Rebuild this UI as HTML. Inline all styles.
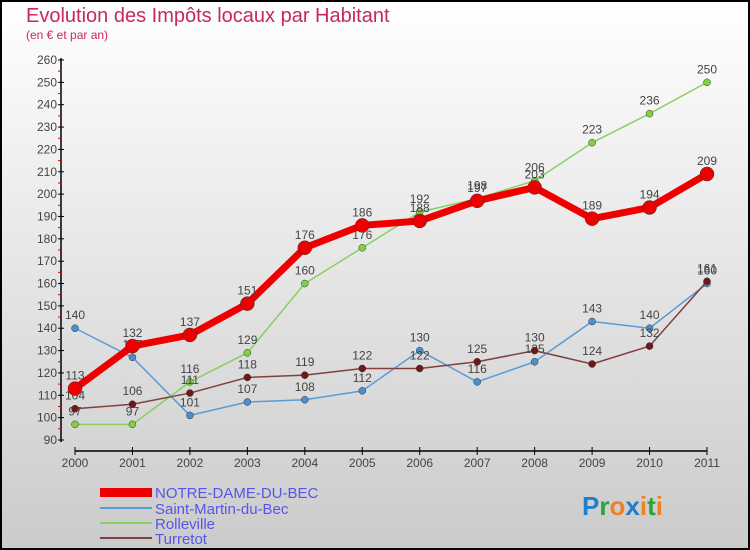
<!DOCTYPE html>
<html><head><meta charset="utf-8"><style>
body{margin:0}
#c{width:750px;height:550px;position:relative;overflow:hidden}
svg text{font-family:"Liberation Sans",sans-serif}
</style></head><body>
<div id="c">
<svg id="s" width="750" height="550" xmlns="http://www.w3.org/2000/svg">
<defs><linearGradient id="bg" x1="0" y1="0" x2="0" y2="1"><stop offset="0" stop-color="#ffffff"/><stop offset="1" stop-color="#cbcbcb"/></linearGradient></defs>
<rect x="1" y="1" width="748" height="548" fill="url(#bg)" stroke="#000" stroke-width="2"/>
<text x="26" y="22" font-size="20" fill="#c8285a">Evolution des Impôts locaux par Habitant</text>
<text x="26" y="39" font-size="12" fill="#c8285a">(en € et par an)</text>
<g id="axes"></g><g id="series"></g>
<g>
<rect x="100" y="488" width="52" height="9" fill="#ee0000"/>
<text x="155" y="498" font-size="15" fill="#5555ee">NOTRE-DAME-DU-BEC</text>
<line x1="100" y1="508" x2="152" y2="508" stroke="#5b9bd5" stroke-width="2"/>
<text x="155" y="514" font-size="15" fill="#5555ee">Saint-Martin-du-Bec</text>
<line x1="100" y1="523" x2="152" y2="523" stroke="#88d060" stroke-width="2"/>
<text x="155" y="529" font-size="15" fill="#5555ee">Rolleville</text>
<line x1="100" y1="538" x2="152" y2="538" stroke="#804040" stroke-width="2"/>
<text x="155" y="544" font-size="15" fill="#5555ee">Turretot</text>
</g>
<text x="582" y="515" font-size="26" font-weight="bold"><tspan fill="#1e7fd0">P</tspan><tspan fill="#30a040">r</tspan><tspan fill="#f08020">o</tspan><tspan fill="#1e7fd0">x</tspan><tspan fill="#f08020">i</tspan><tspan fill="#30a040">t</tspan><tspan fill="#f08020">i</tspan></text>
</svg></div>
<script>
const years=[2000,2001,2002,2003,2004,2005,2006,2007,2008,2009,2010,2011];
const yTicks=[90,100,110,120,130,140,150,160,170,180,190,200,210,220,230,240,250,260];
const notreDame=[113,132,137,151,176,186,188,197,203,189,194,209];
const saintMartin=[140,127,101,107,108,112,130,116,125,143,140,160];
const rolleville=[97,97,116,129,160,176,192,198,206,223,236,250];
const turretot=[104,106,111,118,119,122,122,125,130,124,132,161];
const NS="http://www.w3.org/2000/svg";
const X=i=>75+i*(632/11);
const Y=v=>440-(v-90)*(380/170);
function mk(t,a,p){const e=document.createElementNS(NS,t);for(const k in a)e.setAttribute(k,a[k]);p.appendChild(e);return e;}
const ax=document.getElementById('axes');
let e=mk('line',{x1:61,y1:58,x2:61,y2:442,stroke:'#000','stroke-width':1.5},ax);


e=mk('line',{x1:75,y1:451,x2:707,y2:451,stroke:'#000','stroke-width':1.5},ax);


yTicks.forEach(v=>{
 mk('line',{x1:58,y1:Y(v),x2:64,y2:Y(v),stroke:'#000'},ax);
 if(v<260) mk('line',{x1:58,y1:Y(v+5),x2:61,y2:Y(v+5),stroke:'#d00'},ax);
 const t=mk('text',{x:57,y:Y(v)+4,'font-size':12,fill:'#444','text-anchor':'end'},ax);t.textContent=v;
 
 
});
years.forEach((y,i)=>{
 mk('line',{x1:X(i),y1:447,x2:X(i),y2:455,stroke:'#000'},ax);
 const t=mk('text',{x:X(i),y:467,'font-size':12,fill:'#444','text-anchor':'middle'},ax);t.textContent=y;
 
 
});
const sg=document.getElementById('series');
function draw(vals,color,w,r,dot,name){
 const g=mk('g',{},sg);
 
 
 mk('polyline',{points:vals.map((v,i)=>X(i)+','+Y(v)).join(' '),fill:'none',stroke:color,'stroke-width':w,'stroke-linejoin':'round'},g);
 vals.forEach((v,i)=>{
  const c=mk('circle',{cx:X(i),cy:Y(v),r:r,fill:dot,stroke:'#333','stroke-width':0.5},g);
  
  
  const t=mk('text',{x:X(i),y:Y(v)-9,'font-size':12,fill:'#444','text-anchor':'middle'},g);t.textContent=v;
 });
}
draw(saintMartin,'#5b9bd5',1.5,3.5,'#4a90d0','saint-martin-line');
draw(rolleville,'#88d060',1.5,3.5,'#80d040','rolleville-line');
draw(turretot,'#804040',1.5,3.5,'#701818','turretot-line');
draw(notreDame,'#ee0000',7,7,'#ee0000','notre-dame-line');
</script>
</body></html>
